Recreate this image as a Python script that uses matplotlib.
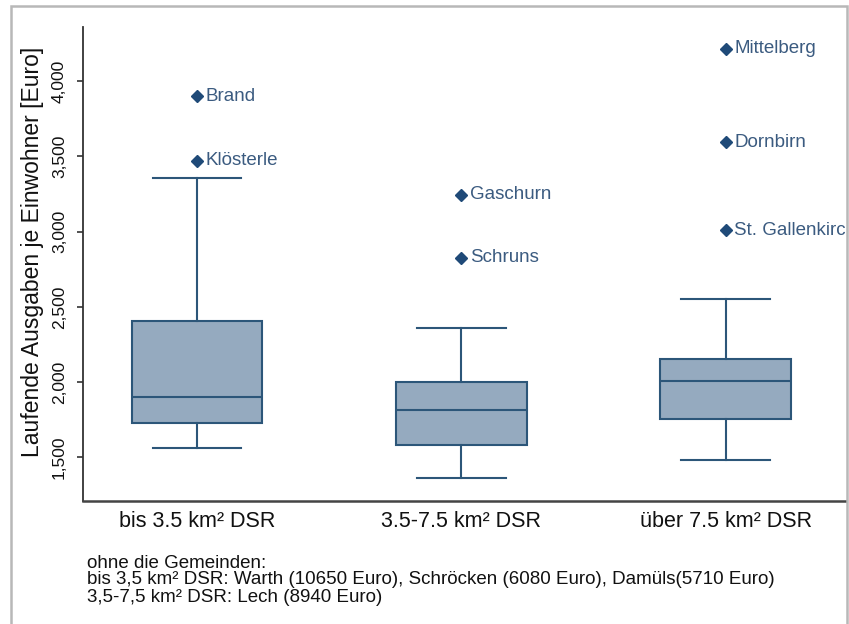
import matplotlib
matplotlib.use("Agg")
import matplotlib.pyplot as plt
from matplotlib.patches import Rectangle
from matplotlib.ticker import StrMethodFormatter

plt.rcParams["font.family"] = ["Liberation Sans", "DejaVu Sans"]

# --- data ---
categories = ["bis 3.5 km² DSR", "3.5-7.5 km² DSR", "über 7.5 km² DSR"]
whisker_low = [1565, 1365, 1485]
quartile_1 = [1730, 1585, 1755]
medians = [1900, 1815, 2010]
quartile_3 = [2405, 2000, 2155]
whisker_high = [3355, 2360, 2555]

outlier_names = [
    ["Brand", "Klösterle"],
    ["Gaschurn", "Schruns"],
    ["Mittelberg", "Dornbirn", "St. Gallenkirch"],
]
outlier_values = [
    [3900, 3470],
    [3245, 2825],
    [4215, 3595, 3010],
]

yticks = [1500, 2000, 2500, 3000, 3500, 4000]

footnote_lines = [
    "ohne die Gemeinden:",
    "bis 3,5 km² DSR: Warth (10650 Euro), Schröcken (6080 Euro), Damüls(5710 Euro)",
    "3,5-7,5 km² DSR: Lech (8940 Euro)",
]

# --- styling ---
BOX_FILL = "#95aabf"
EDGE = "#2c5679"
MARKER = "#1f4a78"
LABEL_COL = "#3b5b80"
AXIS_COL = "#333333"

W, H = 849, 624
fig = plt.figure(figsize=(W / 100, H / 100), dpi=100)
fig.patch.set_facecolor("white")

ax = fig.add_axes([83 / W, 1 - 501 / H, (846 - 83) / W, (501 - 27) / H])

positions = list(range(1, len(categories) + 1))
stats = []
for i, cat in enumerate(categories):
    stats.append(dict(
        label=cat,
        med=medians[i],
        q1=quartile_1[i],
        q3=quartile_3[i],
        whislo=whisker_low[i],
        whishi=whisker_high[i],
        fliers=outlier_values[i],
    ))

ax.bxp(
    stats,
    positions=positions,
    widths=0.495,
    capwidths=0.336,
    patch_artist=True,
    showfliers=True,
    boxprops=dict(facecolor=BOX_FILL, edgecolor=EDGE, linewidth=1.5),
    whiskerprops=dict(color=EDGE, linewidth=1.5),
    capprops=dict(color=EDGE, linewidth=1.5),
    medianprops=dict(color=EDGE, linewidth=1.5),
    flierprops=dict(marker="D", markerfacecolor=MARKER, markeredgecolor=MARKER,
                    markersize=6, linestyle="none"),
)

# outlier labels (the last one is cut by the frame, as in the original)
for pos, names, vals in zip(positions, outlier_names, outlier_values):
    for name, v in zip(names, vals):
        ax.annotate(name, xy=(pos, v), xytext=(6, 0), textcoords="offset points",
                    ha="left", va="center", fontsize=13.5, color=LABEL_COL,
                    clip_on=True)

ax.set_xlim(0.569, 3.455)
ax.set_ylim(1211, 4359)

ax.set_xticks(positions)
ax.set_xticklabels(categories, fontsize=15.5, color="#111111")
ax.tick_params(axis="x", length=0, pad=7)

ax.set_yticks(yticks)
ax.yaxis.set_major_formatter(StrMethodFormatter("{x:,.0f}"))
ax.tick_params(axis="y", length=4.5, width=1.2, color=AXIS_COL, pad=7,
               labelsize=12.5, labelrotation=90, labelcolor="#111111")
for lab in ax.get_yticklabels():
    lab.set_verticalalignment("center")

ax.set_ylabel("Laufende Ausgaben je Einwohner [Euro]", fontsize=16.5, color="#111111")
ax.yaxis.set_label_coords(-0.051, 0.525)

for side in ["top", "right"]:
    ax.spines[side].set_visible(False)
ax.spines["left"].set_color(AXIS_COL)
ax.spines["bottom"].set_color("#444444")
ax.spines["left"].set_linewidth(1.3)
ax.spines["bottom"].set_linewidth(1.8)

# footnote
for line, y_px in zip(footnote_lines, [568, 584, 602]):
    fig.text(87 / W, 1 - y_px / H, line, fontsize=13.5, color="#111111",
             ha="left", va="baseline")

# outer grey frame
fig.add_artist(Rectangle((11 / W, -0.1), (846.5 - 11) / W, 1.1 - 5.5 / H,
                         transform=fig.transFigure, fill=False,
                         edgecolor="#b8b8b8", linewidth=1.8))

fig.savefig("out.png", dpi=100)
